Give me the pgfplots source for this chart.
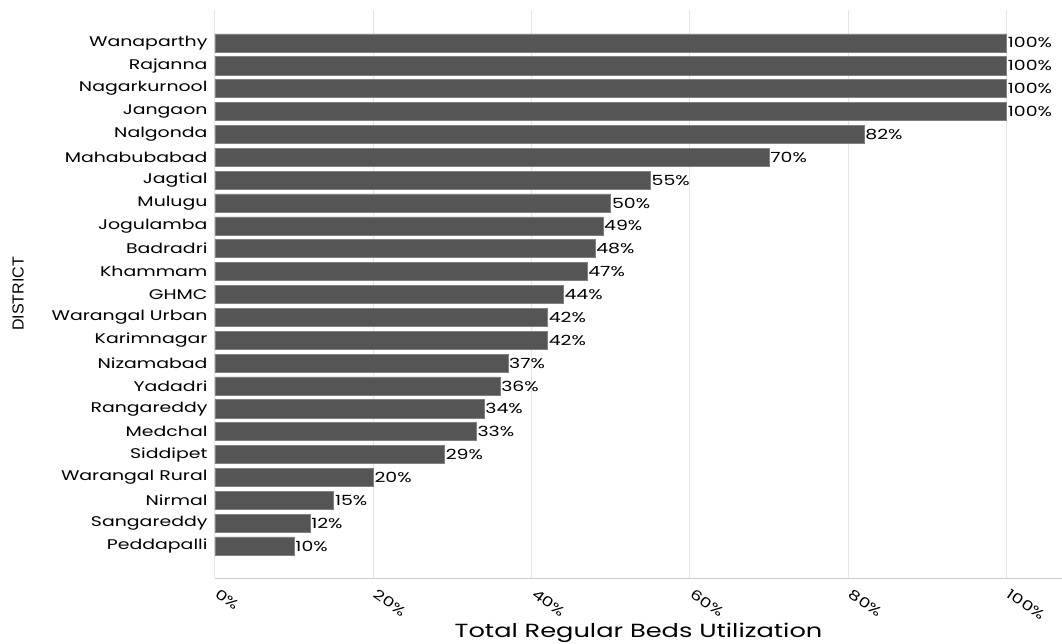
\documentclass[border=0pt]{standalone}
\usepackage{fontspec}
\setmainfont{Poppins}[FakeStretch=1.35]
\newfontfamily\narrowfont{Liberation Sans}
\usepackage{pgfplots}
\pgfplotsset{compat=1.18}
\definecolor{barcol}{HTML}{555555}
\definecolor{gridcol}{HTML}{E6E6E6}
\definecolor{axcol}{HTML}{CCCCCC}

\begin{document}
\begin{tikzpicture}
\useasboundingbox (0pt,0pt) rectangle (1062pt,643pt);
\begin{axis}[
  name=ax,
  at={(215pt,65pt)}, anchor=south west,
  width=847pt, height=568pt, scale only axis,
  xbar, bar width=0.79,
  xmin=0, xmax=107, ymin=-1.44, ymax=23.4, y dir=reverse,
  xtick={0,20,...,100},
  xticklabel={\pgfmathprintnumber{\tick}\%},
  ytick=data,
  yticklabels={Wanaparthy,Rajanna,Nagarkurnool,Jangaon,Nalgonda,Mahabubabad,
    Jagtial,Mulugu,Jogulamba,Badradri,Khammam,GHMC,Warangal Urban,Karimnagar,
    Nizamabad,Yadadri,Rangareddy,Medchal,Siddipet,Warangal Rural,Nirmal,
    Sangareddy,Peddapalli},
  /pgf/number format/assume math mode=true,
  major tick length=0pt,
  axis line style={draw=none},
  xmajorgrids, grid style={gridcol, line width=1pt},
  yticklabel style={font=\fontsize{14}{16}\selectfont, anchor=east, xshift=-4pt},
  xticklabel style={font=\fontsize{13.5}{15}\selectfont, anchor=north west, inner sep=0pt, xshift=5pt, yshift=-10pt, rotate=-35},
  xlabel={Total Regular Beds Utilization},
  xlabel style={font=\fontsize{19}{21}\selectfont, at={(axis description cs:0.5,0)}, anchor=center, yshift=-55pt},
  ylabel={DISTRICT},
  ylabel style={font=\narrowfont\fontsize{16}{18}\selectfont, at={(axis description cs:0,0.5)}, anchor=center, yshift=197pt},
  nodes near coords={\pgfmathprintnumber{\pgfplotspointmeta}\%},
  nodes near coords style={font=\fontsize{14}{16}\selectfont, anchor=west, inner sep=1pt},
]
\addplot[fill=barcol, draw=black!50, line width=0.6pt] coordinates {
  (100,0) (100,1) (100,2) (100,3) (82,4) (70,5) (55,6) (50,7) (49,8) (48,9)
  (47,10) (44,11) (42,12) (42,13) (37,14) (36,15) (34,16) (33,17) (29,18)
  (20,19) (15,20) (12,21) (10,22)
};
\end{axis}
\draw[axcol, line width=1pt] (ax.south west) -- (ax.south east);
\end{tikzpicture}
\end{document}
